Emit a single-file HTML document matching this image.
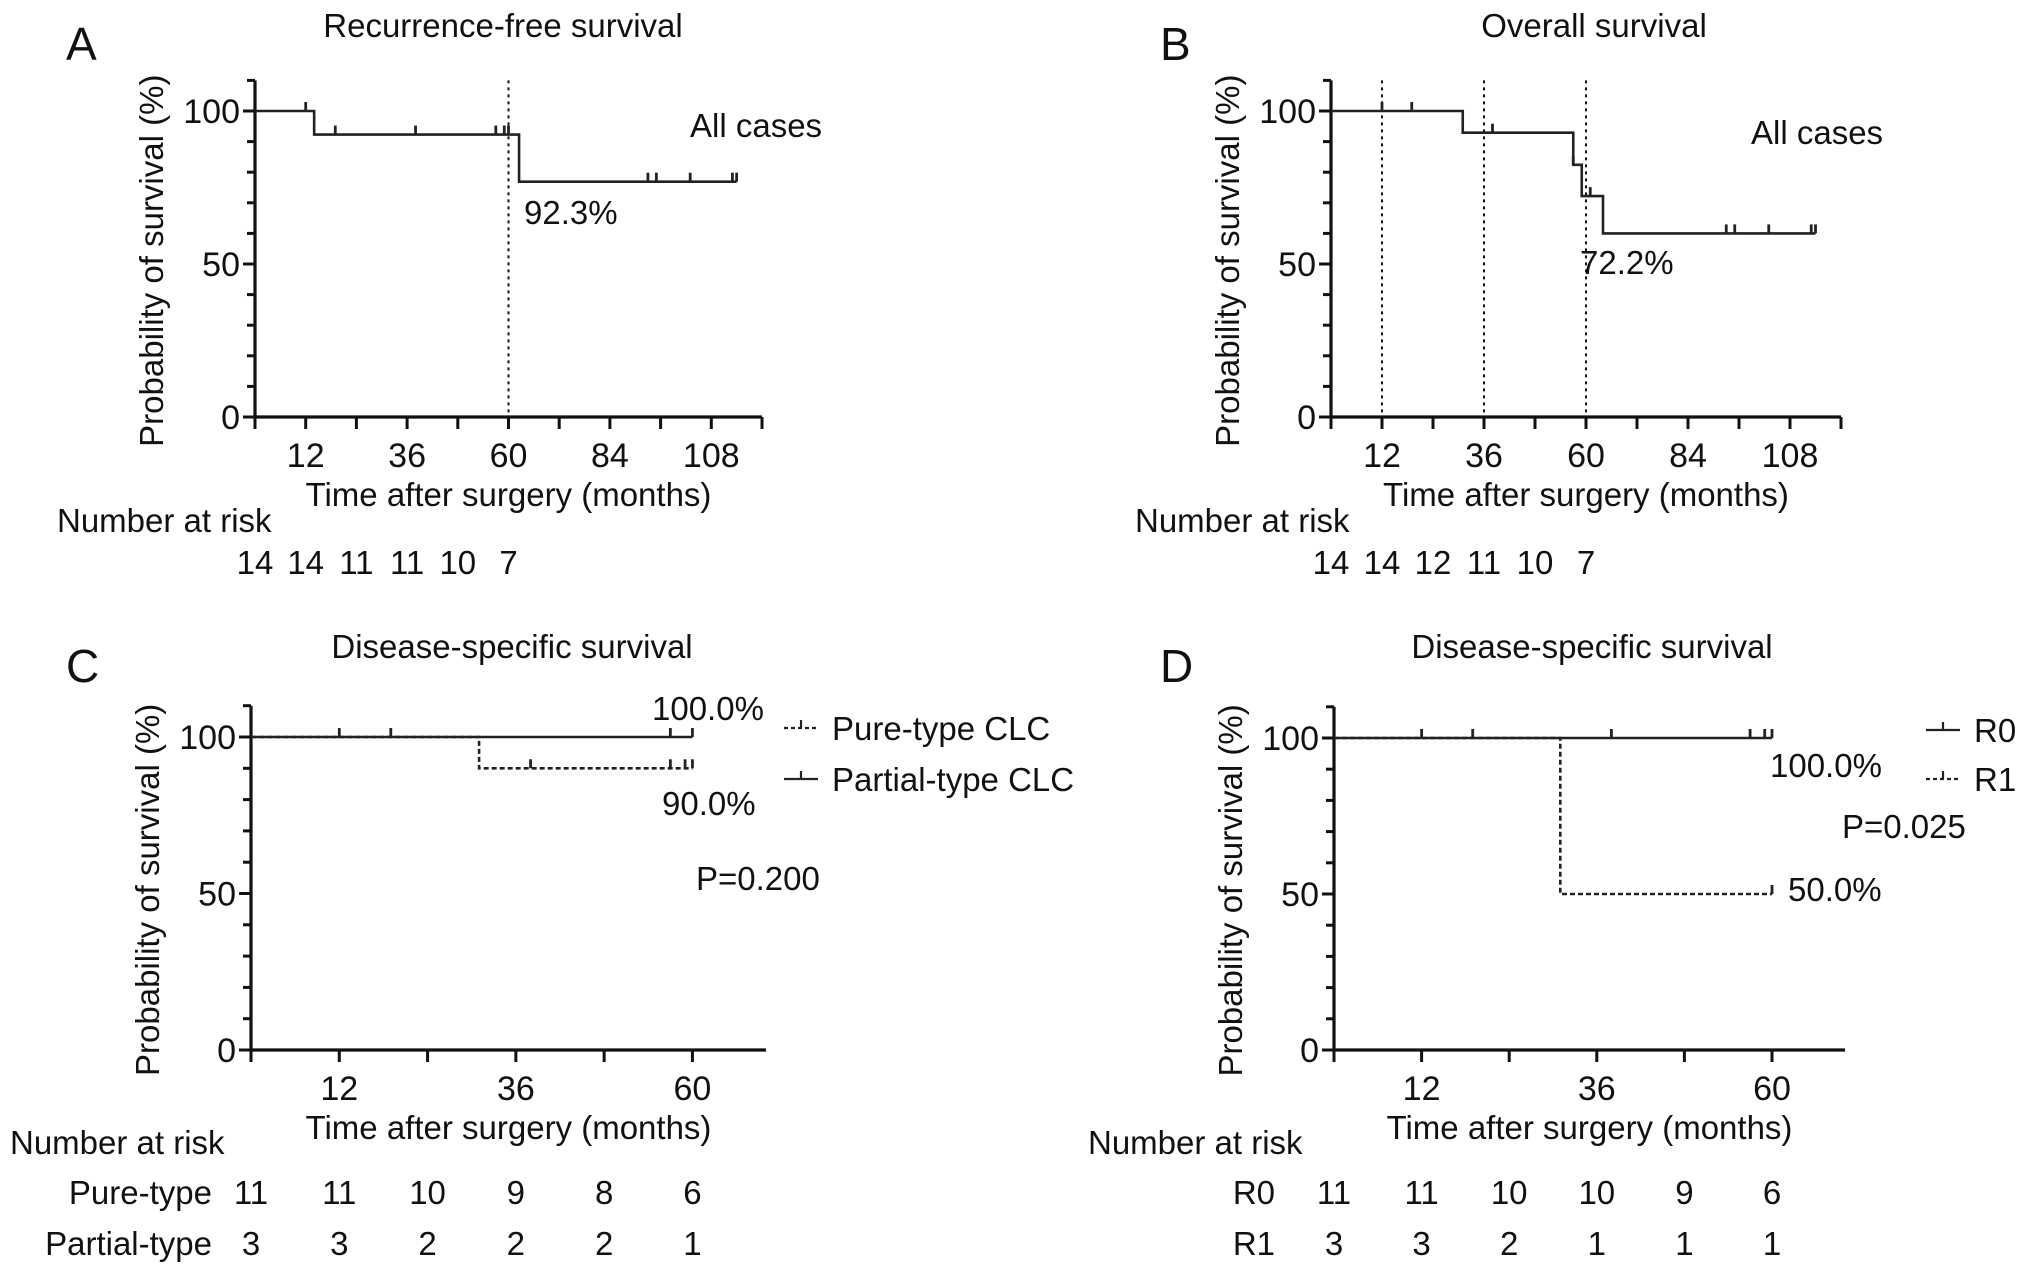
<!DOCTYPE html>
<html><head><meta charset="utf-8"><style>
html,body{margin:0;padding:0;background:#fff}
svg{display:block;font-family:"Liberation Sans",Arial,sans-serif}
text{fill:#111}
</style></head><body>
<svg id="fig" width="2032" height="1274" viewBox="0 0 2032 1274" xmlns="http://www.w3.org/2000/svg"></svg>
<script>
// ---- Panel A: recurrence-free survival (all cases)
const aStepTimes = [0, 14, 62.5, 114];
const aStepValues = [100, 92.3, 76.9, 76.9];
const aCensorTimes = [12, 19, 38, 57, 59, 60, 93, 95, 103, 113, 114];
// ---- Panel B: overall survival (all cases)
const bStepTimes = [0, 31, 57, 59, 64, 114];
const bStepValues = [100, 92.9, 82.4, 72.2, 60.0, 60.0];
const bCensorTimes = [12, 19, 38, 57, 61, 93, 95, 103, 113, 114];
// ---- Panel C: disease-specific survival by type
const cPartialTimes = [0, 60];
const cPartialValues = [100, 100];
const cPartialCensors = [12, 19, 57, 60];
const cPureTimes = [0, 31, 60];
const cPureValues = [100, 90, 90];
const cPureCensors = [38, 57, 59, 60];
// ---- Panel D: disease-specific survival by resection
const dR0Times = [0, 60];
const dR0Values = [100, 100];
const dR0Censors = [12, 19, 38, 57, 59, 60];
const dR1Times = [0, 31, 60];
const dR1Values = [100, 50, 50];
const dR1Censors = [60];
// ---- risk tables
const riskTimesAB = [0, 12, 24, 36, 48, 60];
const riskA = [14, 14, 11, 11, 10, 7];
const riskB = [14, 14, 12, 11, 10, 7];
const riskTimesCD = [0, 12, 24, 36, 48, 60];
const riskCPure = [11, 11, 10, 9, 8, 6];
const riskCPartial = [3, 3, 2, 2, 2, 1];
const riskDR0 = [11, 11, 10, 10, 9, 6];
const riskDR1 = [3, 3, 2, 1, 1, 1];
const xLabelsLong = [12, 36, 60, 84, 108];
const xLabelsShort = [12, 36, 60];
const yLabels = [0, 50, 100];

const svg = document.getElementById('fig');
const NS = 'http://www.w3.org/2000/svg';
const FS = 33;
function el(tag, attrs, parent) {
  const e = document.createElementNS(NS, tag);
  for (const k in attrs) e.setAttribute(k, attrs[k]);
  (parent || svg).appendChild(e);
  return e;
}
function txt(x, y, s, size, anchor, parent) {
  const t = el('text', {x: x, y: y, 'font-size': size, 'text-anchor': anchor || 'start'}, parent);
  t.textContent = s;
  return t;
}

function panel(cfg) {
  const g = el('g', {});
  
  
  const sx = t => cfg.x0 + (t / cfg.xmax) * (cfg.x1 - cfg.x0);
  const sy = v => cfg.y0 - (v / 100) * (cfg.y0 - cfg.y100);
  const yTop = sy(110);
  const ax = el('path', {d: `M${cfg.x0},${yTop} V${cfg.y0} H${cfg.x1}`, stroke: '#111', 'stroke-width': 3.2, fill: 'none'}, g);
  
  
  for (let v = 0; v <= 110; v += 10) {
    const major = v % 50 === 0;
    el('line', {x1: cfg.x0 - (major ? 12 : 8), x2: cfg.x0, y1: sy(v), y2: sy(v), stroke: '#111', 'stroke-width': 3}, g);
  }
  for (const v of yLabels) {
    const t = txt(cfg.x0 - 15, sy(v) + 12, String(v), 34, 'end', g);
    
    
  }
  for (let m = 0; m <= cfg.tickMax; m += 12) {
    el('line', {x1: sx(m), x2: sx(m), y1: cfg.y0, y2: cfg.y0 + 12, stroke: '#111', 'stroke-width': 3}, g);
  }
  for (const m of cfg.xLabels) {
    const t = txt(sx(m), cfg.y0 + 50, String(m), 34, 'middle', g);
    
    
  }
  const xt = txt((cfg.x0 + cfg.x1) / 2, cfg.y0 + 89, 'Time after surgery (months)', FS, 'middle', g);
  
  
  const yc = (yTop + cfg.y0) / 2 + 12;
  const yt = txt(0, 0, 'Probability of survival (%)', FS, 'middle', g);
  yt.setAttribute('transform', `translate(${cfg.x0 - 92},${yc}) rotate(-90)`);
  
  
  const tt = txt(cfg.titleX, cfg.titleY, cfg.title, FS, 'middle', g);
  
  
  const lt = txt(cfg.letterX, cfg.letterY, cfg.letter, 46, 'start', g);
  
  
  for (const m of (cfg.refLines || [])) {
    const r = el('line', {x1: sx(m), x2: sx(m), y1: yTop, y2: cfg.y0, stroke: '#111', 'stroke-width': 2, 'stroke-dasharray': '3,4'}, g);
    
    
  }
  for (const s of cfg.series) {
    let d = `M${sx(s.times[0])},${sy(s.values[0])}`;
    for (let i = 1; i < s.times.length; i++) {
      d += ` H${sx(s.times[i])} V${sy(s.values[i])}`;
    }
    const p = el('path', {d: d, stroke: '#222', 'stroke-width': 2.6, fill: 'none'}, g);
    if (s.dashed) p.setAttribute('stroke-dasharray', '5,3');
    
    
    const valAt = t => { let v = s.values[0]; for (let i = 0; i < s.times.length; i++) if (s.times[i] <= t) v = s.values[i]; return v; };
    for (const c of s.censors) {
      const y = sy(valAt(c));
      const ck = el('line', {x1: sx(c), x2: sx(c), y1: y, y2: y - 9, stroke: '#222', 'stroke-width': 2.8}, g);
      
      
    }
  }
  const rh = txt(cfg.riskHeadX, cfg.riskHeadY, 'Number at risk', FS, 'start', g);
  
  
  for (const row of cfg.riskRows) {
    if (row.label) {
      const l = txt(cfg.riskLabelX, row.y, row.label, FS, 'end', g);
      
      
    }
    row.values.forEach((v, i) => {
      const t = txt(sx(row.times[i]), row.y, String(v), FS, 'middle', g);
      
      
    });
  }
  for (const a of (cfg.annotations || [])) {
    const t = txt(a.x, a.y, a.text, FS, a.anchor || 'start', g);
    
    
  }
  for (const lg of (cfg.legend || [])) {
    const ln = el('line', {x1: lg.x, x2: lg.x + 34, y1: lg.y, y2: lg.y, stroke: '#222', 'stroke-width': 2.2}, g);
    if (lg.dashed) ln.setAttribute('stroke-dasharray', '4,3');
    
    
    el('line', {x1: lg.x + 17, x2: lg.x + 17, y1: lg.y, y2: lg.y - 8, stroke: '#222', 'stroke-width': 2.2}, g);
    const t = txt(lg.x + 48, lg.y + 12, lg.text, FS, 'start', g);
    
    
  }
}

panel({name: 'panel-a', x0: 255, x1: 762, xmax: 120, tickMax: 120, y0: 417, y100: 111,
  xLabels: xLabelsLong, title: 'Recurrence-free survival', titleX: 503, titleY: 37, letter: 'A', letterX: 66, letterY: 60,
  refLines: [60],
  series: [{name: 'all-cases', times: aStepTimes, values: aStepValues, censors: aCensorTimes}],
  riskHeadX: 57, riskHeadY: 532, riskLabelX: 0,
  riskRows: [{y: 574, times: riskTimesAB, values: riskA}],
  annotations: [{x: 690, y: 137, text: 'All cases', name: 'all-cases-label'}, {x: 524, y: 224, text: '92.3%', name: 'rate-label'}]
});
panel({name: 'panel-b', x0: 1331, x1: 1841, xmax: 120, tickMax: 120, y0: 417, y100: 111,
  xLabels: xLabelsLong, title: 'Overall survival', titleX: 1594, titleY: 37, letter: 'B', letterX: 1160, letterY: 60,
  refLines: [12, 36, 60],
  series: [{name: 'all-cases', times: bStepTimes, values: bStepValues, censors: bCensorTimes}],
  riskHeadX: 1135, riskHeadY: 532, riskLabelX: 0,
  riskRows: [{y: 574, times: riskTimesAB, values: riskB}],
  annotations: [{x: 1751, y: 144, text: 'All cases', name: 'all-cases-label'}, {x: 1580, y: 274, text: '72.2%', name: 'rate-label'}]
});
panel({name: 'panel-c', x0: 251, x1: 766, xmax: 70, tickMax: 60, y0: 1050, y100: 737,
  xLabels: xLabelsShort, title: 'Disease-specific survival', titleX: 512, titleY: 658, letter: 'C', letterX: 66, letterY: 682,
  series: [
    {name: 'partial-type', times: cPartialTimes, values: cPartialValues, censors: cPartialCensors},
    {name: 'pure-type', times: cPureTimes, values: cPureValues, censors: cPureCensors, dashed: true}],
  riskHeadX: 10, riskHeadY: 1154, riskLabelX: 212,
  riskRows: [{y: 1204, times: riskTimesCD, values: riskCPure, label: 'Pure-type'},
             {y: 1255, times: riskTimesCD, values: riskCPartial, label: 'Partial-type'}],
  annotations: [{x: 652, y: 720, text: '100.0%', name: 'pure-rate-label'}, {x: 662, y: 815, text: '90.0%', name: 'partial-rate-label'},
    {x: 696, y: 890, text: 'P=0.200', name: 'p-value'}],
  legend: [{x: 784, y: 728, text: 'Pure-type CLC', dashed: true}, {x: 784, y: 779, text: 'Partial-type CLC'}]
});
panel({name: 'panel-d', x0: 1334, x1: 1845, xmax: 70, tickMax: 60, y0: 1050, y100: 738,
  xLabels: xLabelsShort, title: 'Disease-specific survival', titleX: 1592, titleY: 658, letter: 'D', letterX: 1160, letterY: 682,
  series: [
    {name: 'r0', times: dR0Times, values: dR0Values, censors: dR0Censors},
    {name: 'r1', times: dR1Times, values: dR1Values, censors: dR1Censors, dashed: true}],
  riskHeadX: 1088, riskHeadY: 1154, riskLabelX: 1275,
  riskRows: [{y: 1204, times: riskTimesCD, values: riskDR0, label: 'R0'},
             {y: 1255, times: riskTimesCD, values: riskDR1, label: 'R1'}],
  annotations: [{x: 1770, y: 777, text: '100.0%', name: 'r0-rate-label'}, {x: 1788, y: 901, text: '50.0%', name: 'r1-rate-label'},
    {x: 1842, y: 838, text: 'P=0.025', name: 'p-value'}],
  legend: [{x: 1926, y: 730, text: 'R0'}, {x: 1926, y: 779, text: 'R1', dashed: true}]
});
</script>
</body></html>
